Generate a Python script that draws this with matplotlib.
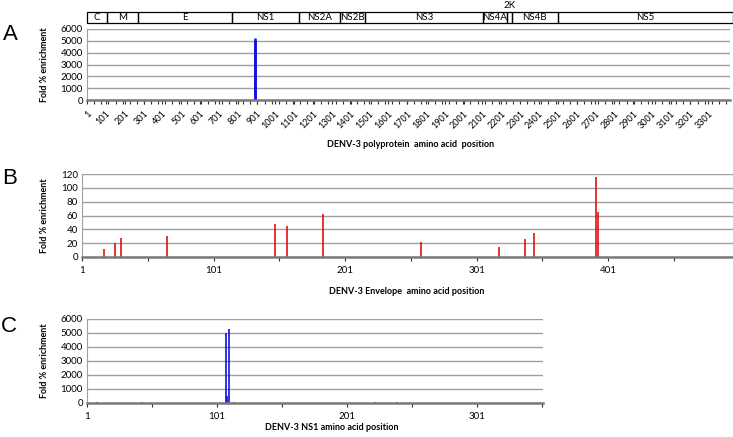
import numpy as np
import matplotlib
matplotlib.use('Agg')
import matplotlib.pyplot as plt
from matplotlib.patches import Rectangle
from matplotlib.transforms import blended_transform_factory

plt.rcParams['font.family'] = ['Lato', 'DejaVu Sans']

# panel A - whole polyprotein
poly_pos = [670, 892, 894, 1830]
poly_val = [60, 5050, 5250, 80]
poly_labels = list(range(1, 3302, 100))

region_names = ['C', 'M', 'E', 'NS1', 'NS2A', 'NS2B', 'NS3', 'NS4A', '2K', 'NS4B', 'NS5']
region_edges = [0.5, 106.5, 270.5, 770.5, 1125.5, 1343.5, 1476.5, 2103.5, 2230.5, 2256.5, 2501.5, 3430.5]

# panel B - envelope
env_pos = [18, 26, 31, 66, 148, 157, 184, 259, 318, 338, 345, 392, 393]
env_val = [11, 20, 28, 30, 48, 45, 62, 21, 14, 26, 34, 115, 65]
env_labels = [1, 101, 201, 301, 401]

# panel C - NS1
ns1_pos = [9, 43, 108, 109, 110, 114, 223, 240]
ns1_val = [60, 50, 5000, 480, 5260, 100, 50, 60]
ns1_labels = [1, 101, 201, 301]

W, H = 733, 437
fig = plt.figure(figsize=(W / 100, H / 100), dpi=100)

def px_axes(l, t, r, b):
    return fig.add_axes([l / W, 1 - b / H, (r - l) / W, (b - t) / H])

def style(ax, ymax, ystep, top, bottom):
    ax.set_ylim(0, ymax)
    ax.set_yticks(np.arange(0, ymax + 1, ystep))
    ax.yaxis.grid(True, color='#a0a0a0', lw=1.0)
    ax.set_axisbelow(True)
    ax.spines['top'].set_visible(False)
    ax.spines['right'].set_visible(False)
    ax.spines['left'].set_color('#a0a0a0')
    ax.spines['bottom'].set_color('#7a7a7a')
    ax.spines['bottom'].set_linewidth(1.8)
    ax.tick_params(axis='y', length=0, labelsize=7, pad=3)
    ax.tick_params(axis='x', which='both', length=3, width=0.8, color='#303030', labelsize=7)
    ax.set_ylabel('Fold % enrichment', fontsize=6.5, fontweight='bold')
    ax.yaxis.set_label_coords(49 / W, 1 - (top + bottom) / 2 / H, transform=fig.transFigure)

# ---- A
axA = px_axes(87, 29, 730, 100)
axA.vlines(poly_pos, 0, poly_val, color='#1010e0', lw=1.8)
axA.set_xlim(0.5, 3416)
style(axA, 6000, 1000, 29, 100)
axA.set_xticks(poly_labels)
axA.set_xticklabels([str(v) for v in poly_labels], rotation=45, ha='right',
                    rotation_mode='anchor', fontsize=6.5)
axA.set_xticks(np.arange(39, 3416, 37.7), minor=True)
axA.set_xlabel('DENV-3 polyprotein  amino acid  position', fontsize=6.5,
               fontweight='bold')
axA.xaxis.set_label_coords(411 / W, 1 - 140 / H, transform=fig.transFigure)

tr = blended_transform_factory(axA.transData, fig.transFigure)
y0, y1 = 1 - 23 / H, 1 - 12 / H
for i, name in enumerate(region_names):
    a, b = region_edges[i], region_edges[i + 1]
    axA.add_patch(Rectangle((a, y0), b - a, y1 - y0, transform=tr, fill=False,
                            ec='black', lw=0.9, clip_on=False))
    ty = (y0 + y1) / 2 if name != '2K' else 1 - 5 / H
    axA.text((a + b) / 2, ty, name, transform=tr, ha='center', va='center',
             fontsize=7, clip_on=False)

# ---- B
axB = px_axes(82, 174, 733, 257)
axB.vlines(env_pos, 0, env_val, color='#e01010', lw=1.2)
axB.set_xlim(1, 496)
style(axB, 120, 20, 174, 257)
axB.set_xticks(env_labels)
axB.set_xticks(np.arange(51, 496, 100), minor=True)
axB.set_xlabel('DENV-3 Envelope  amino acid position', fontsize=6.5,
               fontweight='bold')
axB.xaxis.set_label_coords(407 / W, 1 - 287 / H, transform=fig.transFigure)

# ---- C
axC = px_axes(87, 319, 543, 403)
axC.vlines(ns1_pos, 0, ns1_val, color='#1010e0', lw=1.2)
axC.set_xlim(1, 352)
style(axC, 6000, 1000, 319, 403)
axC.set_xticks(ns1_labels)
axC.set_xticks(np.arange(51, 352, 100), minor=True)
axC.set_xlabel('DENV-3 NS1 amino acid position', fontsize=6.5,
               fontweight='bold')
axC.xaxis.set_label_coords(332 / W, 1 - 423 / H, transform=fig.transFigure)

for letter, (x, y) in zip('ABC', [(10, 34), (10, 179), (9, 327)]):
    fig.text(x / W, 1 - y / H, letter, fontsize=16, ha='center', va='center',
             family=['Liberation Sans', 'DejaVu Sans'])

fig.savefig('out.png', dpi=100)
